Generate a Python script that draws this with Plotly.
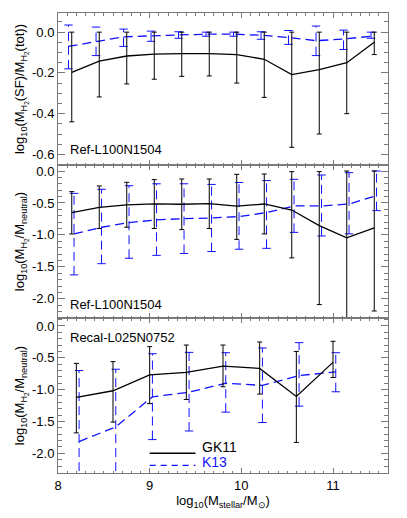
import plotly.graph_objects as go
from plotly.subplots import make_subplots

# ---------------- data ----------------
x_ref_gk = [8.15, 8.45, 8.75, 9.05, 9.35, 9.65, 9.95, 10.25, 10.55, 10.85, 11.15, 11.45]
x_ref1_k13 = [8.115, 8.415, 8.715, 9.015, 9.315, 9.615, 9.915, 10.215, 10.515, 10.815, 11.115, 11.415]
x_ref2_k13 = [8.175, 8.475, 8.775, 9.075, 9.375, 9.675, 9.975, 10.275, 10.575, 10.875, 11.175, 11.475]
x_rec_gk = [8.2, 8.6, 9.0, 9.4, 9.8, 10.2, 10.6, 11.0]
x_rec_k13 = [8.23, 8.63, 9.03, 9.43, 9.83, 10.23, 10.63, 11.03]

# Panel 1: log10(M_H2(SF)/M_H2(tot)), Ref-L100N1504
p1_gk_med = [-0.197, -0.142, -0.117, -0.108, -0.105, -0.105, -0.11, -0.133, -0.208, -0.184, -0.15, -0.05]
p1_gk_hi = [0.0, 0.0, 0.0, 0.0, 0.0, 0.0, 0.0, 0.0, 0.0, 0.0, 0.0, 0.0]
p1_gk_lo = [-0.44, -0.318, -0.254, -0.231, -0.217, -0.215, -0.25, -0.32, -0.565, -0.5, -0.4, -0.11]
p1_k13_med = [-0.07, -0.045, -0.023, -0.018, -0.013, -0.01, -0.01, -0.015, -0.026, -0.042, -0.034, -0.02]
p1_k13_hi = [0.035, 0.025, 0.015, 0.005, 0.002, 0.0, 0.0, 0.002, 0.008, 0.03, 0.01, 0.0]
p1_k13_lo = [-0.18, -0.115, -0.07, -0.045, -0.03, -0.02, -0.02, -0.035, -0.06, -0.115, -0.085, -0.03]

# Panel 2: log10(M_H2/M_neutral), Ref-L100N1504
p2_gk_med = [-0.65, -0.57, -0.53, -0.515, -0.52, -0.51, -0.55, -0.516, -0.61, -0.854, -1.047, -0.89]
p2_gk_hi = [-0.323, -0.234, -0.177, -0.135, -0.125, -0.125, -0.052, -0.047, -0.01, -0.01, 0.0, 0.0]
p2_gk_lo = [-0.985, -0.9, -0.88, -0.9, -0.917, -0.9, -1.07, -0.984, -1.36, -2.09, -2.4, -2.19]
p2_k13_med = [-0.985, -0.88, -0.807, -0.765, -0.745, -0.735, -0.713, -0.65, -0.547, -0.547, -0.516, -0.385]
p2_k13_hi = [-0.35, -0.286, -0.23, -0.2, -0.2, -0.21, -0.18, -0.15, -0.13, -0.063, -0.026, 0.0]
p2_k13_lo = [-1.625, -1.45, -1.365, -1.32, -1.29, -1.26, -1.224, -1.21, -0.96, -1.016, -0.984, -0.62]

# Panel 3: log10(M_H2/M_neutral), Recal-L025N0752
p3_gk_med = [-1.123, -1.018, -0.77, -0.73, -0.63, -0.667, -1.108, -0.572]
p3_gk_hi = [-0.588, -0.56, -0.325, -0.3, -0.3, -0.252, -0.4, -0.241]
p3_gk_lo = [-1.68, -1.51, -1.22, -1.155, -0.955, -1.07, -1.83, -0.81]
p3_k13_med = [-1.816, -1.585, -1.113, -1.04, -0.9, -0.934, -0.78, -0.72]
p3_k13_hi = [-0.7, -0.68, -0.436, -0.415, -0.42, -0.346, -0.262, -0.42]
p3_k13_lo = [-2.5, -2.5, -1.785, -1.65, -1.354, -1.517, -1.26, -1.034]

panel_labels = ["Ref-L100N1504", "Ref-L100N1504", "Recal-L025N0752"]
legend_names = ["GK11", "K13"]
x_ticks = [8, 9, 10, 11]

# ---------------- styling ----------------
FONT = "Liberation Sans, Arial, Helvetica, sans-serif"
BLACK = "#000000"
BLUE = "#1010ff"
FRAME = "#7a7a7a"
DASH = "9px,5px"

fig = make_subplots(rows=3, cols=1, shared_xaxes=True, vertical_spacing=0,
                    row_heights=[152, 153, 155])


def add_gk(row, x, med, hi, lo):
    fig.add_trace(go.Scatter(
        x=x, y=med, mode="lines", line=dict(color=BLACK, width=1.3),
        error_y=dict(type="data", symmetric=False,
                     array=[h - m for h, m in zip(hi, med)],
                     arrayminus=[m - l for m, l in zip(med, lo)],
                     color=BLACK, thickness=1, width=2.5),
        showlegend=False, hoverinfo="skip"), row=row, col=1)


def add_k13(row, x, med, hi, lo):
    bx, by = [], []
    for xi, h, l in zip(x, hi, lo):
        bx += [xi, xi, None]
        by += [l, h, None]
    fig.add_trace(go.Scatter(x=bx, y=by, mode="lines",
                             line=dict(color=BLUE, width=1, dash=DASH),
                             showlegend=False, hoverinfo="skip"), row=row, col=1)
    fig.add_trace(go.Scatter(x=list(x) + list(x), y=list(hi) + list(lo), mode="markers",
                             marker=dict(symbol="line-ew", size=6, color=BLUE,
                                         line=dict(color=BLUE, width=1)),
                             showlegend=False, hoverinfo="skip"), row=row, col=1)
    fig.add_trace(go.Scatter(x=x, y=med, mode="lines",
                             line=dict(color=BLUE, width=1.3, dash=DASH),
                             showlegend=False, hoverinfo="skip"), row=row, col=1)


add_k13(1, x_ref1_k13, p1_k13_med, p1_k13_hi, p1_k13_lo)
add_gk(1, x_ref_gk, p1_gk_med, p1_gk_hi, p1_gk_lo)
add_k13(2, x_ref2_k13, p2_k13_med, p2_k13_hi, p2_k13_lo)
add_gk(2, x_ref_gk, p2_gk_med, p2_gk_hi, p2_gk_lo)
add_k13(3, x_rec_k13, p3_k13_med, p3_k13_hi, p3_k13_lo)
add_gk(3, x_rec_gk, p3_gk_med, p3_gk_hi, p3_gk_lo)

axis_common = dict(showline=True, linecolor=FRAME, linewidth=1, mirror="ticks",
                   ticks="inside", tickcolor=FRAME, showgrid=False, zeroline=False,
                   automargin=False,
                   tickfont=dict(family=FONT, size=13, color=BLACK))

for r in (1, 2, 3):
    fig.update_xaxes(range=[8, 11.6], tickvals=x_ticks, ticklen=5, tickwidth=1,
                     minor=dict(dtick=0.1, tick0=8, ticklen=2.5, tickcolor=FRAME, ticks="inside"),
                     showticklabels=(r == 3), row=r, col=1, **axis_common)

fig.update_xaxes(title=dict(text="log<sub>10</sub>(M<sub>stellar</sub>/M<sub>⊙</sub>)",
                            font=dict(family=FONT, size=13, color=BLACK), standoff=4),
                 row=3, col=1)

ytitle1 = "log<sub>10</sub>(M<sub>H<sub>2</sub></sub>(SF)/M<sub>H<sub>2</sub></sub>(tot))"
ytitle2 = "log<sub>10</sub>(M<sub>H<sub>2</sub></sub>/M<sub>neutral</sub>)"

fig.update_yaxes(range=[-0.652, 0.094], tickvals=[0.0, -0.2, -0.4, -0.6],
                 ticktext=["0.0", "-0.2", "-0.4", "-0.6"], ticklen=7,
                 minor=dict(dtick=0.05, tick0=0, ticklen=4, tickcolor=FRAME, ticks="inside"),
                 title=dict(text=ytitle1, font=dict(family=FONT, size=13, color=BLACK), standoff=4),
                 row=1, col=1, **axis_common)
fig.update_yaxes(range=[-2.3, 0.094], tickvals=[0.0, -0.5, -1.0, -1.5, -2.0],
                 ticktext=["0.0", "-0.5", "-1.0", "-1.5", "-2.0"], ticklen=7,
                 minor=dict(dtick=0.1, tick0=0, ticklen=4, tickcolor=FRAME, ticks="inside"),
                 title=dict(text=ytitle2, font=dict(family=FONT, size=13, color=BLACK), standoff=4),
                 row=2, col=1, **axis_common)
fig.update_yaxes(range=[-2.31, 0.125], tickvals=[0.0, -0.5, -1.0, -1.5, -2.0],
                 ticktext=["0.0", "-0.5", "-1.0", "-1.5", "-2.0"], ticklen=7,
                 minor=dict(dtick=0.1, tick0=0, ticklen=4, tickcolor=FRAME, ticks="inside"),
                 title=dict(text=ytitle2, font=dict(family=FONT, size=13, color=BLACK), standoff=4),
                 row=3, col=1, **axis_common)

# panel labels
label_pos = [("x domain", "y domain", 0.099), ("x2 domain", "y2 domain", 0.085),
             ("x3 domain", "y3 domain", 0.877)]
for (xr, yr, yy), txt in zip(label_pos, panel_labels):
    fig.add_annotation(xref=xr, yref=yr, x=0.03, y=yy, text=txt, showarrow=False,
                       xanchor="left", yanchor="middle",
                       font=dict(family=FONT, size=13, color=BLACK))

# legend (drawn inside bottom panel)
fig.add_shape(type="line", xref="x3", yref="y3", x0=9.0, x1=9.5, y0=-2.0, y1=-2.0,
              line=dict(color=BLACK, width=1.3))
fig.add_shape(type="line", xref="x3", yref="y3", x0=9.0, x1=9.5, y0=-2.19, y1=-2.19,
              line=dict(color=BLUE, width=1.3, dash="6px,5px"))
fig.add_annotation(xref="x3", yref="y3", x=9.55, y=-1.905, text=legend_names[0],
                   showarrow=False, xanchor="left", yanchor="middle",
                   font=dict(family=FONT, size=14, color=BLACK))
fig.add_annotation(xref="x3", yref="y3", x=9.55, y=-2.135, text=legend_names[1],
                   showarrow=False, xanchor="left", yanchor="middle",
                   font=dict(family=FONT, size=14, color=BLUE))

fig.update_layout(width=407, height=518, margin=dict(l=58, r=19, t=13, b=45),
                  plot_bgcolor="white", paper_bgcolor="white", showlegend=False,
                  font=dict(family=FONT, size=13, color=BLACK))

fig.write_html("out.html", config={"displayModeBar": False},
               post_script="document.body.style.margin='0px';document.body.style.padding='0px';")
